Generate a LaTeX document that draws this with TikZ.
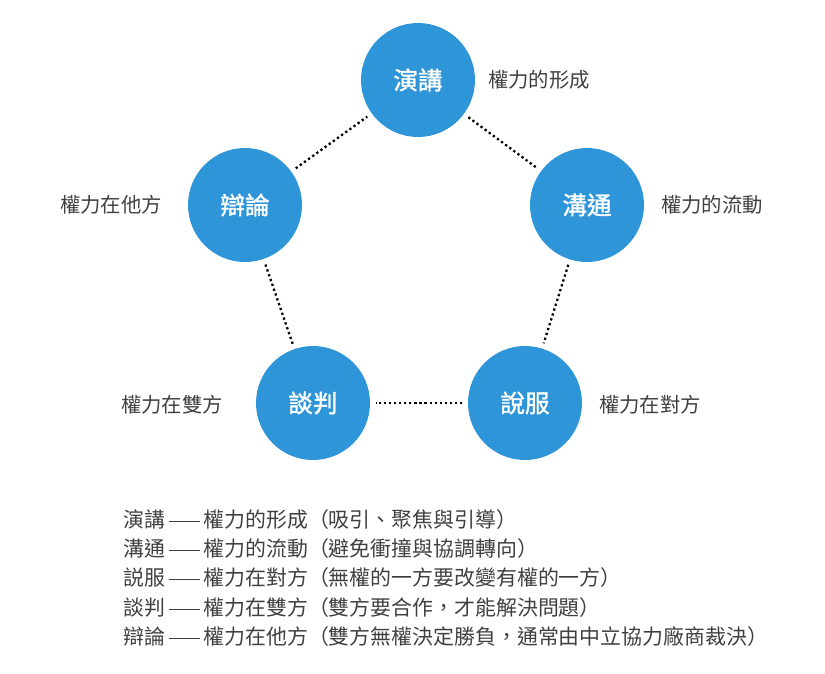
\documentclass[tikz,border=0pt]{standalone}
\usepackage{fontspec}
\setmainfont{Noto Sans CJK TC}
\newfontfamily\cjkbold[FakeBold=1.5]{Noto Sans CJK TC}
\newcommand{\lnk}{\,\rule[0.3em]{1.5em}{0.4pt}\,}
\tikzset{
  topic/.style={circle, fill=cyan!70!blue!85!white, minimum size=2.28cm, inner sep=0pt,
    text=white, font=\cjkbold\fontsize{14}{15}\selectfont},
  tag/.style={text=black!75, font=\fontsize{11.6}{13}\selectfont},
  item/.style={anchor=west, text=black!75, inner sep=0pt, font=\fontsize{11.9}{13}\selectfont},
  link/.style={line width=1.3pt, dash pattern=on 1.3pt off 1.6pt, shorten <=3pt, shorten >=3pt}
}
\begin{document}
\begin{tikzpicture}[x=0.02cm, y=-0.02cm]
  \useasboundingbox (0,0) rectangle (825,673);
  \node[topic] (yj) at (418,80) {演講};
  \node[topic] (gt) at (587,205) {溝通};
  \node[topic] (sf) at (525,403) {說服};
  \node[topic] (tp) at (313,403) {談判};
  \node[topic] (bl) at (245,205) {辯論};
  % labels beside the circles
  \node[tag] (yjt) at (539,80) {權力的形成};
  \node[tag] (gtt) at (712,205) {權力的流動};
  \node[tag] (sft) at (650,405) {權力在對方};
  \node[tag] (tpt) at (172,405) {權力在雙方};
  \node[tag] (blt) at (111,205) {權力在他方};
  % dotted ring
  \draw[link] (yj) -- (gt);
  \draw[link] (gt) -- (sf);
  \draw[link] (sf) -- (tp);
  \draw[link] (tp) -- (bl);
  \draw[link] (bl) -- (yj);
  % legend
  \node[item] (l1) at (123,520) {演講\lnk 權力的形成（吸引、聚焦與引導）};
  \node[item] (l2) at (123,549) {溝通\lnk 權力的流動（避免衝撞與協調轉向）};
  \node[item] (l3) at (123,578) {説服\lnk 權力在對方（無權的一方要改變有權的一方）};
  \node[item] (l4) at (123,608) {談判\lnk 權力在雙方（雙方要合作，才能解決問題）};
  \node[item] (l5) at (123,637) {辯論\lnk 權力在他方（雙方無權決定勝負，通常由中立協力廠商裁決）};
\end{tikzpicture}
\end{document}
